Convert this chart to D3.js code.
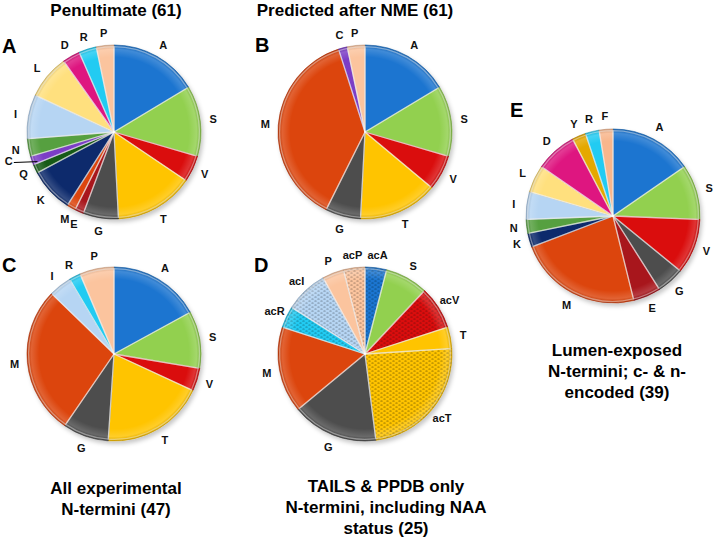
<!DOCTYPE html>
<html><head><meta charset="utf-8">
<script src="https://cdn.jsdelivr.net/npm/d3@7"></script>
<style>body{margin:0;background:#fff} svg{display:block}</style>
</head><body>
<svg id="chart" width="713" height="538"></svg>
<script>
// ---- data ----
const penultimateLabels = ["A","S","V","T","G","E","M","K","Q","C","N","I","L","D","R","P"];
const penultimateValues = [10,8,3,9,4,1,1,5,1,1,2,5,5,2,2,2];
const nmeLabels = ["A","S","V","T","G","M","C","P"];
const nmeValues = [10,8,4,9,4,23,1,2];
const experimentalLabels = ["A","S","V","T","G","M","I","R","P"];
const experimentalValues = [8,5,2,9,4,13,2,1,3];
const tailsLabels = ["acA","S","acV","T","acT","G","M","acR","acI","P","acP"];
const tailsValues = [1,2,2,1,6,4,4,1,2,1,1];
const lumenLabels = ["A","S","V","G","E","M","K","N","I","L","D","Y","R","F"];
const lumenValues = [6,4,4,2,2,9,1,1,2,2,3,1,1,1];
const panelLetters = ["A","B","C","D","E"];
const panelTitles = [
  ["Penultimate (61)"],
  ["Predicted after NME (61)"],
  ["All experimental","N-termini (47)"],
  ["TAILS & PPDB only","N-termini, including NAA","status (25)"],
  ["Lumen-exposed","N-termini; c- & n-","encoded (39)"]
];

// ---- styles ----
const residueColor = {
  A:"#1B75D0", S:"#92D050", V:"#DA0A0A", T:"#FFC400", G:"#4E4E4E",
  E:"#A8141C", M:"#DC4410", K:"#0C2B6C", Q:"#155A18", C:"#7B3CC6",
  N:"#56A040", I:"#B6D5F3", L:"#FFE07E", D:"#DE1480", R:"#22CBF2",
  P:"#FBC49E", Y:"#E5A800", F:"#F8B68C"
};
const FONT = "'Liberation Sans', Arial, Helvetica, sans-serif";

const svg = d3.select("#chart");
const defs = svg.append("defs");
const shadow = defs.append("filter").attr("id","shadow").attr("x","-20%").attr("y","-20%").attr("width","140%").attr("height","140%");
shadow.append("feDropShadow").attr("dx",2).attr("dy",3).attr("stdDeviation",2.2)
  .attr("flood-color","#000").attr("flood-opacity",0.22);

const rg = defs.append("radialGradient").attr("id","bevel").attr("cx","50%").attr("cy","50%").attr("r","50%");
rg.append("stop").attr("offset","0%").attr("stop-color","#fff").attr("stop-opacity",0);
rg.append("stop").attr("offset","86%").attr("stop-color","#fff").attr("stop-opacity",0);
rg.append("stop").attr("offset","95%").attr("stop-color","#fff").attr("stop-opacity",0.16);
rg.append("stop").attr("offset","100%").attr("stop-color","#000").attr("stop-opacity",0.1);

const patternIds = {};
function patternFor(key){
  if (patternIds[key]) return patternIds[key];
  const id = "pat_" + key;
  const base = residueColor[key];
  const dark = d3.color(base).darker(key === "T" ? 1.6 : 1.3).formatHex();
  const p = defs.append("pattern").attr("id", id).attr("patternUnits","userSpaceOnUse")
    .attr("width",6).attr("height",4);
  p.append("rect").attr("width",6).attr("height",4).attr("fill",base);
  p.append("ellipse").attr("cx",1.5).attr("cy",1).attr("rx",1.3).attr("ry",0.6).attr("fill",dark);
  p.append("ellipse").attr("cx",4.5).attr("cy",3).attr("rx",1.3).attr("ry",0.6).attr("fill",dark);
  patternIds[key] = "url(#" + id + ")";
  return patternIds[key];
}

function drawPie(cx, cy, r, labels, values, leaders) {
  const g = svg.append("g").attr("transform", `translate(${cx},${cy})`);
  const data = labels.map((l,i)=>({label:l, value:values[i]}));
  const arcs = d3.pie().value(d=>d.value).sort(null)(data);
  const arc = d3.arc().innerRadius(0).outerRadius(r);
  const innerArc = d3.arc().innerRadius(0).outerRadius(r-1.6);
  const labelArc = d3.arc().innerRadius(r+13).outerRadius(r+13);

  const body = g.append("g").attr("filter","url(#shadow)");
  body.selectAll("path.slice").data(arcs).join("path").attr("class","slice")
    .attr("d", arc)
    .attr("fill", d => {
      const key = d.data.label.replace(/^ac/,"");
      return d.data.label.startsWith("ac") ? patternFor(key) : residueColor[key];
    })
    .attr("stroke", d => d3.color(residueColor[d.data.label.replace(/^ac/,"")]).darker(0.8).formatHex())
    .attr("stroke-width", 0.6);
  // bevel highlight
  g.selectAll("path.hl").data(arcs).join("path").attr("class","hl")
    .attr("d", innerArc)
    .attr("fill","none")
    .attr("stroke","#fff").attr("stroke-opacity",0.45).attr("stroke-width",1.3)
    .attr("stroke-linejoin","round");
  g.append("circle").attr("r", r).attr("fill","url(#bevel)");

  arcs.forEach(d => {
    let [x,y] = labelArc.centroid(d);
    if (leaders && leaders.includes(d.data.label)) {
      const a = (d.startAngle + d.endAngle)/2 + 0.07;
      x = Math.sin(a)*(r+22); y = -Math.cos(a)*(r+22);
      const ma = (d.startAngle + d.endAngle)/2;
      g.append("line")
        .attr("x1", x+5).attr("y1", y+2)
        .attr("x2", Math.sin(ma)*(r-6)).attr("y2", -Math.cos(ma)*(r-6)+3)
        .attr("stroke","#000").attr("stroke-width",1);
    }
    g.append("text").attr("x", x).attr("y", y)
      .attr("text-anchor","middle").attr("dominant-baseline","central")
      .attr("font-family", FONT).attr("font-weight","bold").attr("font-size", 11)
      .attr("fill","#111").text(d.data.label);
  });
}

drawPie(114, 132, 87, penultimateLabels, penultimateValues, ["C"]);
drawPie(365, 132, 87, nmeLabels, nmeValues);
drawPie(114, 354, 87, experimentalLabels, experimentalValues);
drawPie(365, 354, 87, tailsLabels, tailsValues);
drawPie(613, 216, 87, lumenLabels, lumenValues);

// panel letters
const letterPos = [[2,53],[255,52],[2,272],[254,272],[510,117]];
panelLetters.forEach((L,i)=>{
  svg.append("text").attr("x",letterPos[i][0]).attr("y",letterPos[i][1])
    .attr("font-family",FONT).attr("font-weight","bold").attr("font-size",20)
    .attr("fill","#000").text(L);
});

// titles
const titlePos = [[116,16],[355,16],[116,494],[386,492],[617,356]];
panelTitles.forEach((lines,i)=>{
  const t = svg.append("text").attr("text-anchor","middle")
    .attr("font-family",FONT).attr("font-weight","bold").attr("font-size",17).attr("fill","#000");
  lines.forEach((ln,j)=>{
    t.append("tspan").attr("x",titlePos[i][0]).attr("y",titlePos[i][1] + j*21).text(ln);
  });
});
</script>
</body></html>
